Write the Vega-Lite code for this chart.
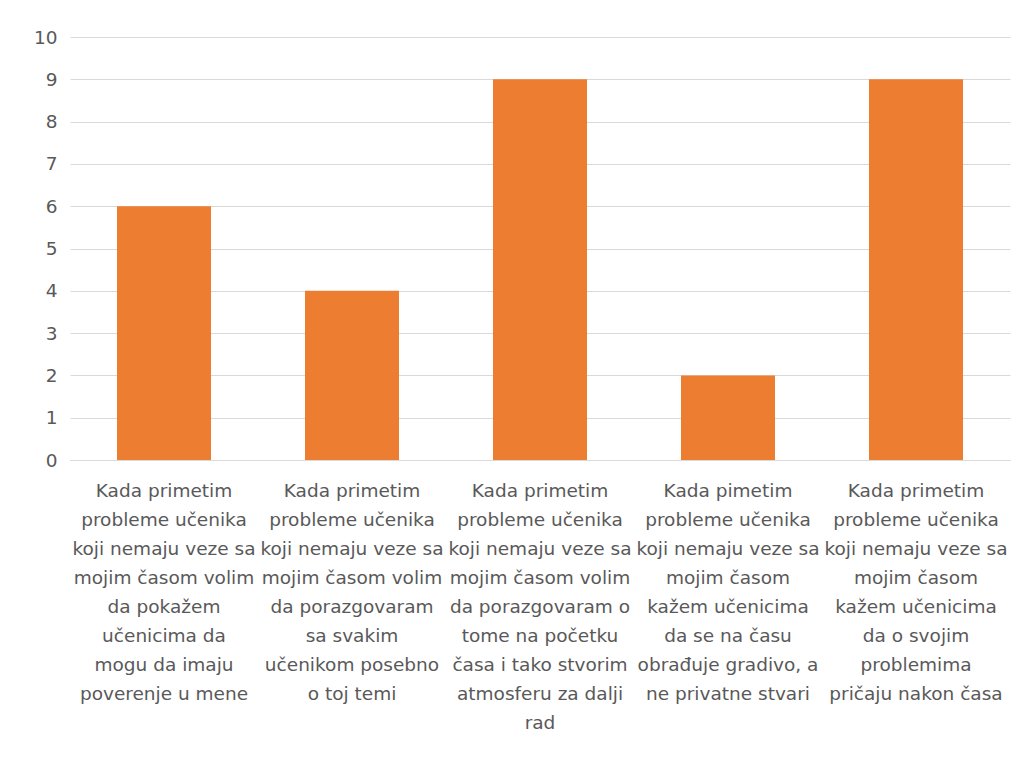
{
  "$schema": "https://vega.github.io/schema/vega-lite/v6.json",
  "width": 940,
  "height": 423,
  "autosize": {"type": "none"},
  "padding": {"left": 70, "top": 37, "right": 24, "bottom": 297},
  "background": "white",
  "config": {"view": {"stroke": null}, "font": "DejaVu Sans"},
  "data": {
    "values": [
      {"kategorija": "Kada primetim|probleme učenika|koji nemaju veze sa|mojim časom volim|da pokažem|učenicima da|mogu da imaju|poverenje u mene", "broj": 6},
      {"kategorija": "Kada primetim|probleme učenika|koji nemaju veze sa|mojim časom volim|da porazgovaram|sa svakim|učenikom posebno|o toj temi", "broj": 4},
      {"kategorija": "Kada primetim|probleme učenika|koji nemaju veze sa|mojim časom volim|da porazgovaram o|tome na početku|časa i tako stvorim|atmosferu za dalji|rad", "broj": 9},
      {"kategorija": "Kada pimetim|probleme učenika|koji nemaju veze sa|mojim časom|kažem učenicima|da se na času|obrađuje gradivo, a|ne privatne stvari", "broj": 2},
      {"kategorija": "Kada primetim|probleme učenika|koji nemaju veze sa|mojim časom|kažem učenicima|da o svojim|problemima|pričaju nakon časa", "broj": 9}
    ]
  },
  "mark": {"type": "bar", "color": "#ED7D31"},
  "encoding": {
    "x": {
      "field": "kategorija",
      "type": "nominal",
      "sort": null,
      "scale": {"paddingInner": 0.5, "paddingOuter": 0.25},
      "axis": {
        "title": null,
        "labelAngle": 0,
        "labelExpr": "split(datum.label, '|')",
        "labelFontSize": 18.5,
        "labelColor": "#595959",
        "labelLineHeight": 29,
        "labelPadding": 21,
        "labelLimit": 0,
        "labelOverlap": false,
        "ticks": false,
        "domainColor": "#d9d9d9",
        "domainWidth": 1,
        "labelFont": "DejaVu Sans"
      }
    },
    "y": {
      "field": "broj",
      "type": "quantitative",
      "scale": {"domain": [0, 10]},
      "axis": {
        "title": null,
        "values": [0,1,2,3,4,5,6,7,8,9,10],
        "labelOverlap": false,
        "domain": false,
        "ticks": false,
        "labelPadding": 13,
        "labelFontSize": 18.5,
        "labelColor": "#595959",
        "gridColor": "#d9d9d9",
        "labelFont": "DejaVu Sans"
      }
    }
  }
}
